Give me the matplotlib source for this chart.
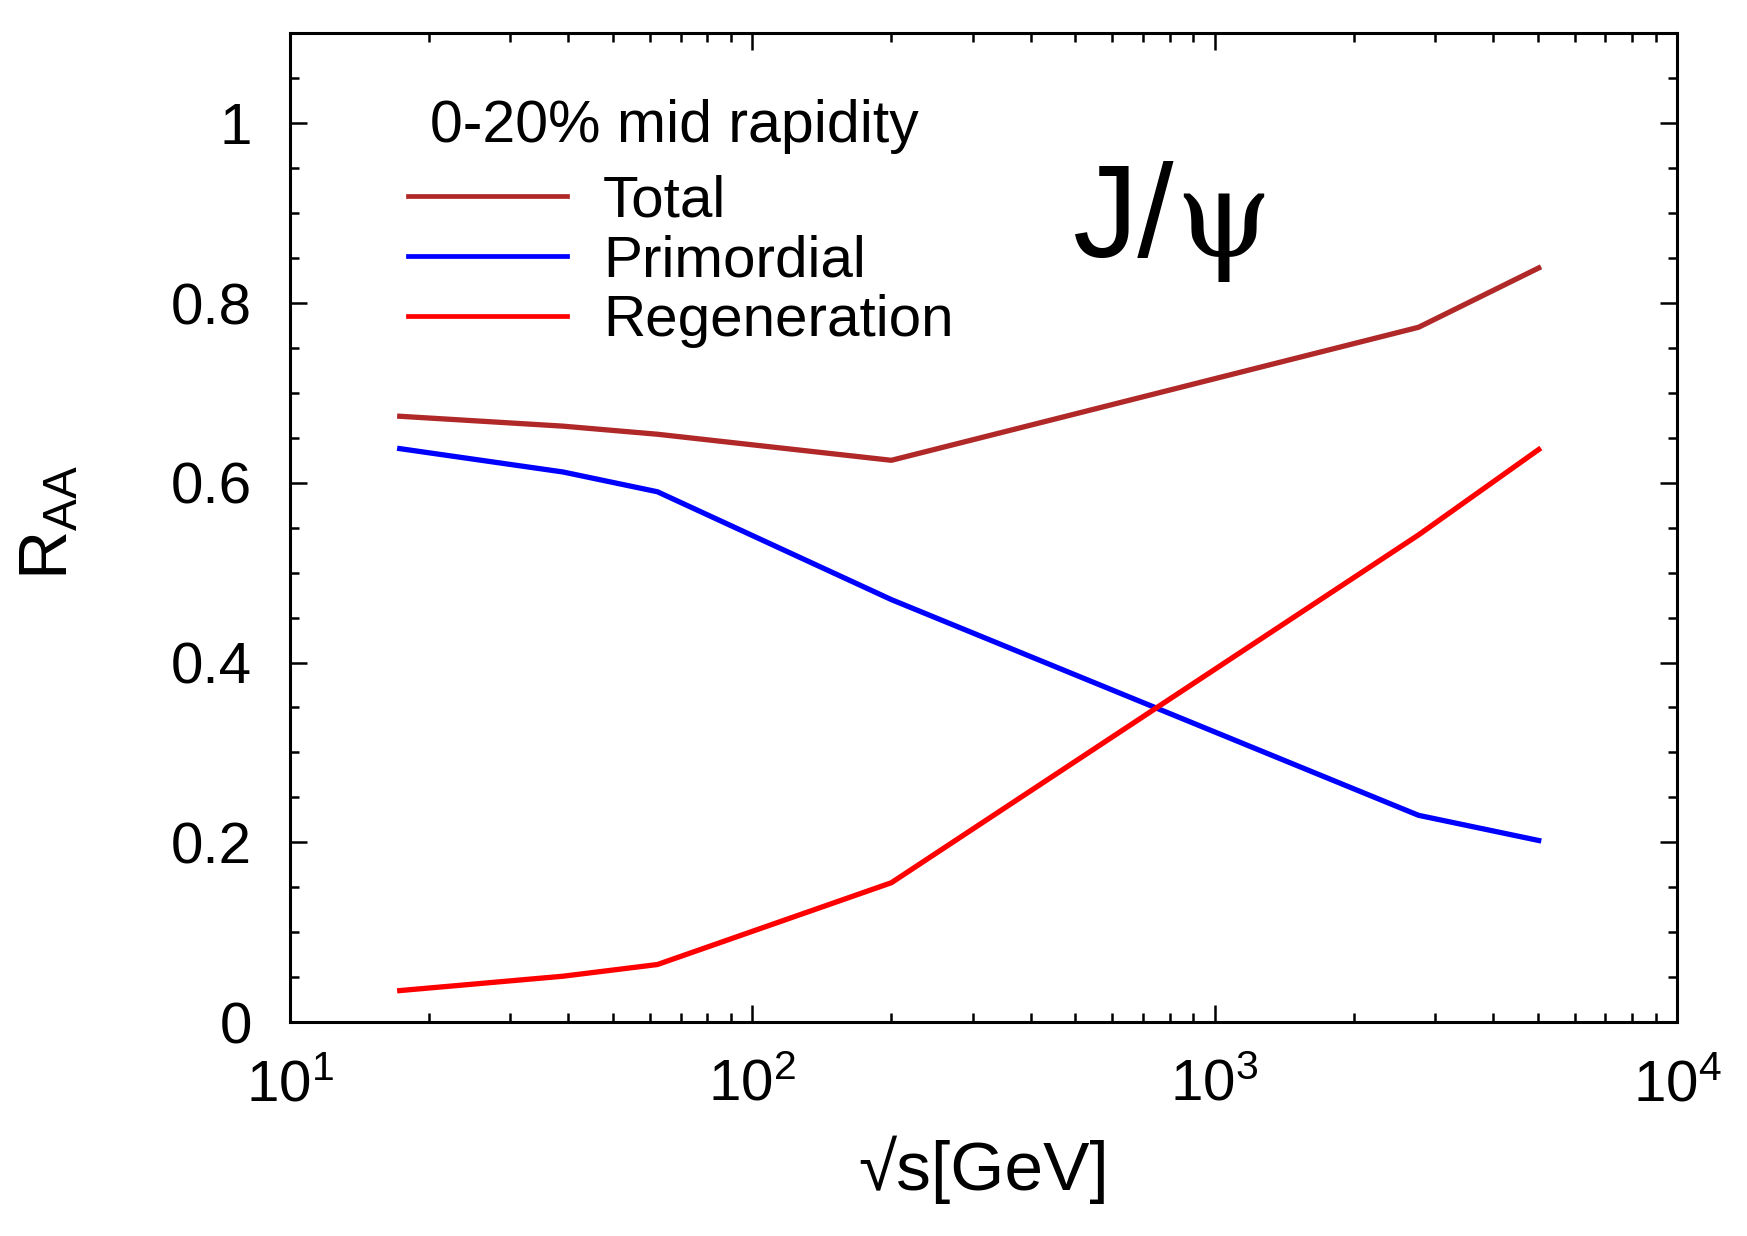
import matplotlib
matplotlib.use("Agg")
import matplotlib.pyplot as plt
from matplotlib.ticker import LogLocator, MultipleLocator, NullFormatter

plt.rcParams['font.family'] = ['Liberation Sans', 'DejaVu Sans']
plt.rcParams['mathtext.fontset'] = 'custom'
plt.rcParams['mathtext.rm'] = 'Liberation Sans'
plt.rcParams['mathtext.it'] = 'Liberation Sans'

# data
energy = [17.3, 39.0, 62.4, 200.0, 2760.0, 5020.0]
total = [0.674, 0.663, 0.654, 0.625, 0.773, 0.839]
primordial = [0.638, 0.612, 0.590, 0.470, 0.230, 0.202]
regeneration = [0.035, 0.051, 0.064, 0.155, 0.542, 0.637]
labels = ["Total", "Primordial", "Regeneration"]
colors = ['#b02828', '#0000ff', '#ff0000']
ytick_vals = [0, 0.2, 0.4, 0.6, 0.8, 1.0]
ytick_labels = ['0', '0.2', '0.4', '0.6', '0.8', '1']

fig = plt.figure(figsize=(17.47, 12.36), dpi=100)
ax = fig.add_axes([0.1658, 0.1731, 0.7942, 0.7999])

for series, lab, col in zip([total, primordial, regeneration], labels, colors):
    ax.plot(energy, series, color=col, lw=3.8, label=lab)

ax.set_xscale('log')
ax.set_xlim(10, 1e4)
ax.set_ylim(0, 1.1)
ax.set_yticks(ytick_vals)
ax.set_yticklabels(ytick_labels)
ax.yaxis.set_minor_locator(MultipleLocator(0.05))
ax.xaxis.set_major_locator(LogLocator(base=10, numticks=10))
ax.xaxis.set_minor_locator(LogLocator(base=10, subs=range(2, 10), numticks=20))
ax.xaxis.set_minor_formatter(NullFormatter())

ax.tick_params(which='both', direction='in', top=True, right=True, width=1.8)
ax.tick_params(which='major', length=12, labelsize=42)
ax.tick_params(which='minor', length=6.5)
ax.tick_params(axis='y', which='major', pad=27)
ax.tick_params(axis='x', which='major', pad=26)
for s in ax.spines.values():
    s.set_linewidth(2.2)

ax.set_xlabel('√s[GeV]', fontsize=50)
ax.xaxis.set_label_coords(0.5, -0.115)
ax.set_ylabel(r'R$_{\rm AA}$', fontsize=49)
ax.yaxis.set_label_coords(-0.15, 0.505)

ax.text(0.101, 0.906, '0-20% mid rapidity', transform=ax.transAxes,
        fontsize=42.5, ha='left', va='center')
leg = ax.legend(loc='upper left', bbox_to_anchor=(0.0855, 0.857), frameon=False,
                fontsize=42, handlelength=2.72, handletextpad=0.62,
                labelspacing=0.1, borderpad=0, borderaxespad=0)
for h in leg.get_lines():
    h.set_linewidth(3.4)

ax.text(0.638, 0.7735, 'J/', transform=ax.transAxes, fontsize=94,
        ha='right', va='baseline')
ax.text(0.638, 0.7735, 'ψ', transform=ax.transAxes, fontsize=88,
        ha='left', va='baseline', family=['DejaVu Serif', 'Liberation Serif'])

fig.savefig('out.png', dpi=100)
